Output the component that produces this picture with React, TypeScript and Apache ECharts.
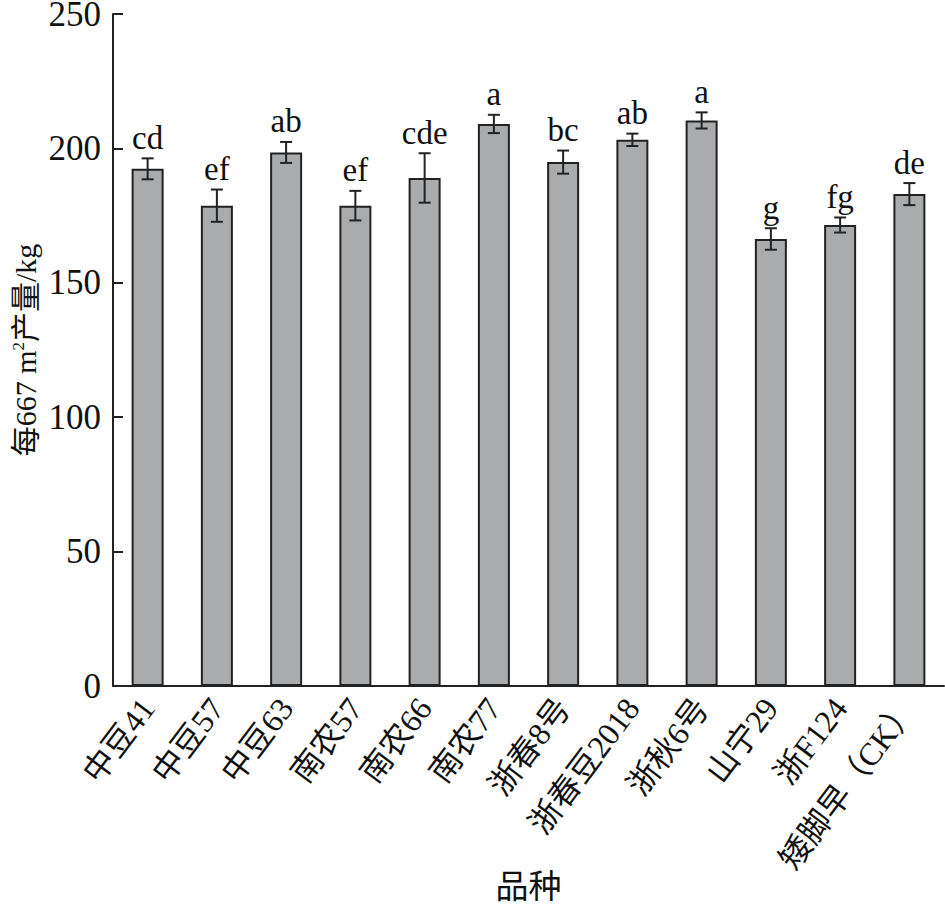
import React, { useEffect, useRef } from 'react'
import * as echarts from 'echarts'

const categories = ['中豆41', '中豆57', '中豆63', '南农57', '南农66', '南农77', '浙春8号', '浙春豆2018', '浙秋6号', '山宁29', '浙F124', '矮脚早（CK）']
const yields = [192.4, 178.7, 198.5, 178.7, 189.0, 209.1, 194.9, 203.2, 210.4, 166.3, 171.5, 183.0]
const errors = [3.9, 6.0, 3.9, 5.5, 9.2, 3.4, 4.3, 2.3, 3.0, 4.0, 2.8, 4.1]
const letters = ['cd', 'ef', 'ab', 'ef', 'cde', 'a', 'bc', 'ab', 'a', 'g', 'fg', 'de']
const yTicks = { min: 0, max: 250, interval: 50 }

const FONT = "'Liberation Serif', 'Noto Sans CJK SC', serif"

export default function App() {
    const chartRef = useRef(null)

    useEffect(() => {
        const chart = echarts.init(chartRef.current, null, { renderer: 'svg' })
        const errData = yields.map((v, i) => [i, v, errors[i]])

        chart.setOption({
            animation: false,
            textStyle: { fontFamily: FONT, color: '#111' },
            grid: { left: 113, right: 1, top: 14, bottom: 222, containLabel: false, outerBoundsMode: 'none' },
            xAxis: {
                type: 'category',
                data: categories,
                name: '品种',
                nameLocation: 'middle',
                nameGap: 184,
                nameMoveOverlap: false,
                nameTextStyle: { fontSize: 33, fontFamily: FONT, color: '#111' },
                axisLine: { lineStyle: { color: '#222', width: 2 } },
                axisTick: { inside: true, length: 10, lineStyle: { color: '#222', width: 2 } },
                axisLabel: { rotate: 53, fontSize: 32, margin: 16, color: '#111', fontFamily: FONT, interval: 0 },
            },
            yAxis: {
                type: 'value',
                min: yTicks.min,
                max: yTicks.max,
                interval: yTicks.interval,
                name: '每667 m{sup|2}产量/kg',
                nameLocation: 'middle',
                nameGap: 73,
                nameMoveOverlap: false,
                nameRotate: 90,
                nameTextStyle: {
                    fontSize: 30, fontFamily: FONT, color: '#111',
                    rich: { sup: { fontSize: 17, fontFamily: FONT, color: '#111', verticalAlign: 'top', lineHeight: 14 } },
                },
                axisLine: { show: true, lineStyle: { color: '#222', width: 2 } },
                axisTick: { show: true, inside: true, length: 10, lineStyle: { color: '#222', width: 2 } },
                axisLabel: { fontSize: 35, lineHeight: 26, margin: 12, color: '#111', fontFamily: FONT },
                splitLine: { show: false },
            },
            series: [
                {
                    type: 'bar',
                    data: yields,
                    barWidth: 32,
                    itemStyle: { color: '#aaabad', borderColor: '#222', borderWidth: 2 },
                },
                {
                    type: 'custom',
                    data: errData,
                    z: 10,
                    renderItem: (params: any, api: any) => {
                        const i = api.value(0)
                        const m = api.value(1)
                        const e = api.value(2)
                        const top = api.coord([i, m + e])
                        const bot = api.coord([i, m - e])
                        const hw = 6
                        const st = { stroke: '#222', lineWidth: 2 }
                        return {
                            type: 'group',
                            children: [
                                { type: 'line', shape: { x1: top[0], y1: top[1], x2: bot[0], y2: bot[1] }, style: st },
                                { type: 'line', shape: { x1: top[0] - hw, y1: top[1], x2: top[0] + hw, y2: top[1] }, style: st },
                                { type: 'line', shape: { x1: bot[0] - hw, y1: bot[1], x2: bot[0] + hw, y2: bot[1] }, style: st },
                                {
                                    type: 'text',
                                    x: top[0],
                                    y: top[1] - 4,
                                    style: {
                                        text: letters[params.dataIndex],
                                        fontSize: 33,
                                        fontFamily: FONT,
                                        fill: '#111',
                                        align: 'center',
                                        verticalAlign: 'bottom',
                                    },
                                },
                            ],
                        }
                    },
                },
            ],
        })
        return () => chart.dispose()
    }, [])

    return <div ref={chartRef} style={{ position: 'absolute', left: 0, top: 0, width: 945, height: 908 }} />
}
